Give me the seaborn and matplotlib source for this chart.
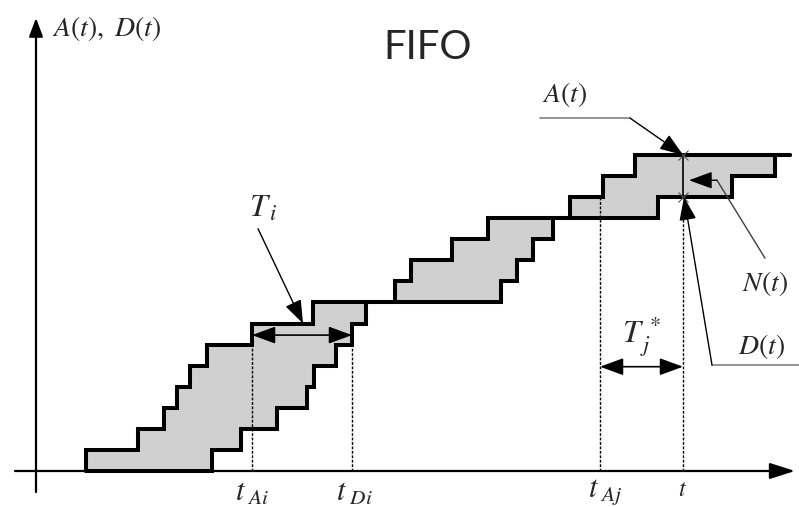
import numpy as np
import matplotlib
matplotlib.use("Agg")
import matplotlib.pyplot as plt
import seaborn as sns

# arrival / departure instants (time axis units) and cumulative counts
arrival_times = [86, 138, 164, 177, 190, 207, 252, 313, 395, 411, 452, 488, 570, 603, 635]
departure_times = [212, 241, 277, 307, 314, 336, 352, 366, 501, 517, 533, 553, 658, 732, 775]
t_start, t_end = 86, 790
t_Ai, t_Di = 252, 352
t_Aj, t_now = 600, 683

counts = list(range(len(arrival_times) + 1))
A_x = [t_start] + arrival_times + [t_end]
A_y = counts + [counts[-1]]
D_x = [t_start] + departure_times + [t_end]
D_y = counts + [counts[-1]]

sns.set_style("white")
plt.rcParams["mathtext.fontset"] = "stix"

fig = plt.figure(figsize=(7.99, 5.07), dpi=100)
ax = fig.add_axes([0, 0, 1, 1])
ax.set_xlim(0, 799)
ax.set_ylim(-1.709, 22.354)
ax.axis("off")

# shaded area between A(t) and D(t)
xs = np.array(sorted(set(A_x + D_x)))
a_of_t = np.searchsorted(arrival_times, xs, side="right")
d_of_t = np.searchsorted(departure_times, xs, side="right")
ax.fill_between(xs, d_of_t, a_of_t, step="post", color="#d0d0d0", lw=0)

# axes with arrows
ax.annotate("", xy=(795, 0), xytext=(15, 0),
            arrowprops=dict(arrowstyle="-|>,head_length=1.1,head_width=0.35",
                            mutation_scale=14, color="black", lw=1.6, shrinkA=0, shrinkB=0))
ax.annotate("", xy=(36, 21.5), xytext=(36, -1.0),
            arrowprops=dict(arrowstyle="-|>,head_length=0.8,head_width=0.3",
                            mutation_scale=14, color="black", lw=1.6, shrinkA=0, shrinkB=0))

# step curves
sns.lineplot(x=A_x, y=A_y, drawstyle="steps-post", estimator=None, sort=False,
             color="black", lw=2.9, solid_joinstyle="miter", ax=ax)
sns.lineplot(x=D_x, y=D_y, drawstyle="steps-post", estimator=None, sort=False,
             color="black", lw=2.9, solid_joinstyle="miter", ax=ax)

# dotted guide lines
dot = dict(color="black", lw=1.0, ls=(0, (2, 1.2)))
ax.plot([t_Ai, t_Ai], [0, 6.45], **dot)
ax.plot([t_Di, t_Di], [0, 6], **dot)
ax.plot([t_Aj, t_Aj], [0, 13], **dot)
ax.plot([t_now, t_now], [0, 12.4], **dot)

# N(t) segment with small crosses
ax.plot([t_now, t_now], [13, 15], color="black", lw=1.2)
ax.plot([t_now, t_now], [13, 15], ls="none", marker="x", ms=7, mew=0.8, color="#555555")

head = "-|>,head_length=0.9,head_width=0.33"
dbl = "<|-|>,head_length=0.9,head_width=0.33"
ms = 16

# T_i
ax.annotate("", xy=(t_Di, 6.45), xytext=(t_Ai, 6.45),
            arrowprops=dict(arrowstyle=dbl, mutation_scale=ms, color="black", lw=1.2,
                            shrinkA=0, shrinkB=0))
ax.annotate("", xy=(303, 7.0), xytext=(258, 11.5),
            arrowprops=dict(arrowstyle=head, mutation_scale=ms, color="black", lw=1.0,
                            shrinkA=0, shrinkB=0))
ax.text(263, 12.45, r"$T_{\,i}$", fontsize=23, ha="center", va="center")

# T_j*
ax.annotate("", xy=(t_now, 4.95), xytext=(t_Aj, 4.95),
            arrowprops=dict(arrowstyle=dbl, mutation_scale=ms, color="black", lw=1.2,
                            shrinkA=0, shrinkB=0))
ax.text(641, 6.35, r"$T_{\,j}^{\,*}$", fontsize=23, ha="center", va="center")

# A(t) leader
ax.plot([540, 630], [16.75, 16.75], color="#808080", lw=1.2)
ax.annotate("", xy=(t_now, 15), xytext=(630, 16.75),
            arrowprops=dict(arrowstyle=head, mutation_scale=ms, color="black", lw=1.0,
                            shrinkA=0, shrinkB=0))
ax.text(565, 17.85, r"$A(t)$", fontsize=20, ha="center", va="center")

# N(t) leader
ax.plot([765, 717], [10.1, 13.8], color="#404040", lw=1.0)
ax.annotate("", xy=(689, 13.8), xytext=(717, 13.8),
            arrowprops=dict(arrowstyle=head, mutation_scale=ms, color="black", lw=1.0,
                            shrinkA=0, shrinkB=0))
ax.text(765, 8.9, r"$N(t)$", fontsize=20, ha="center", va="center")

# D(t) leader
ax.plot([799, 712], [5.03, 5.03], color="#808080", lw=1.2)
ax.annotate("", xy=(t_now + 1, 13), xytext=(712, 5.03),
            arrowprops=dict(arrowstyle=head, mutation_scale=ms, color="black", lw=1.0,
                            shrinkA=0, shrinkB=0))
ax.text(762, 5.9, r"$D(t)$", fontsize=20, ha="center", va="center")

# time labels
ax.text(t_Ai, -1.0, r"$t_{\ Ai}$", fontsize=22, ha="center", va="center")
ax.text(t_Di + 2, -1.0, r"$t_{\ Di}$", fontsize=22, ha="center", va="center")
ax.text(t_Aj + 5, -1.0, r"$t_{\ Aj}$", fontsize=22, ha="center", va="center")
ax.text(t_now, -0.85, r"$t$", fontsize=17, ha="center", va="center")

# titles
ax.text(52, 21.0, r"$A(t),\ D(t)$", fontsize=20, ha="left", va="center")
ax.text(428, 20.1, "FIFO", fontsize=29, ha="center", va="center", family="Lato")

fig.savefig("out.png", dpi=100)
